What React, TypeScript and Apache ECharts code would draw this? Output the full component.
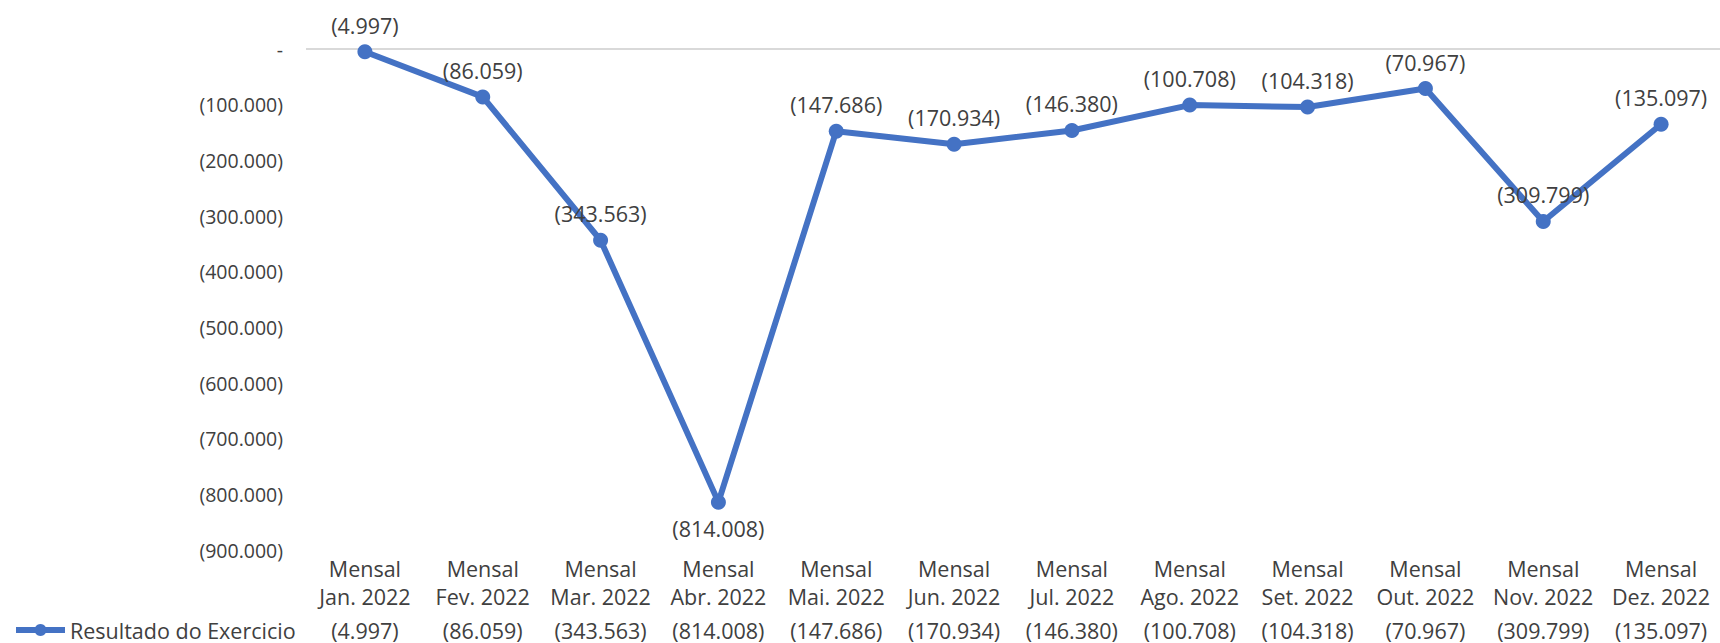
import React, { useEffect, useRef } from "react";
import * as echarts from "echarts";

const months = ["Jan. 2022", "Fev. 2022", "Mar. 2022", "Abr. 2022", "Mai. 2022", "Jun. 2022", "Jul. 2022", "Ago. 2022", "Set. 2022", "Out. 2022", "Nov. 2022", "Dez. 2022"];
const prefix = "Mensal";
const seriesName = "Resultado do Exercicio";
const values = [-4997, -86059, -343563, -814008, -147686, -170934, -146380, -100708, -104318, -70967, -309799, -135097];
const labelBelow = [false, false, false, true, false, false, false, false, false, false, false, false];
const yMin = -900000;
const yMax = 0;
const yStep = 100000;

function fmt(v: number): string {
  if (v === 0) return "-";
  const s = Math.round(Math.abs(v)).toString().replace(/\B(?=(\d{3})+(?!\d))/g, ".");
  return v < 0 ? "(" + s + ")" : s;
}

const FONT = "'Open Sans', sans-serif";
const TEXT = "#404040";
const BLUE = "#4472C4";
const FS = 21.5;

export default function App() {
  const ref = useRef<HTMLDivElement>(null);
  useEffect(() => {
    document.body.style.margin = "0";
    if (!ref.current) return;
    const chart = echarts.init(ref.current, undefined, { renderer: "svg" });
    const categories = months.map((m, i) => `{a|${prefix}}\n{a|${m}}\n{b|${fmt(values[i])}}`);
    chart.setOption({
      animation: false,
      backgroundColor: "#ffffff",
      textStyle: { fontFamily: FONT },
      grid: { left: 306, top: 49, width: 1419, height: 501, containLabel: false },
      legend: {
        left: 13,
        top: 619,
        padding: 0,
        itemWidth: 49,
        itemHeight: 15,
        itemGap: 5,
        lineStyle: { width: 6 },
        textStyle: { fontFamily: FONT, fontSize: FS, color: TEXT, padding: [0, 0, 0, 0], lineHeight: 22 },
        data: [seriesName],
      },
      xAxis: {
        type: "category",
        data: categories,
        boundaryGap: true,
        axisLine: { show: false },
        axisTick: { show: false },
        splitLine: { show: false },
        axisLabel: {
          margin: 4,
          interval: 0,
          color: TEXT,
          fontFamily: FONT,
          rich: {
            a: { fontSize: FS, lineHeight: 28, color: TEXT, fontFamily: FONT, align: "center" },
            b: { fontSize: FS, lineHeight: 40, color: TEXT, fontFamily: FONT, align: "center" },
          },
        },
      },
      yAxis: {
        type: "value",
        min: yMin,
        max: yMax,
        interval: yStep,
        axisLine: { show: false },
        axisTick: { show: false },
        splitLine: { show: false },
        axisLabel: {
          margin: 23,
          color: TEXT,
          fontFamily: FONT,
          fontSize: 19.5,
          formatter: (v: number) => fmt(v),
        },
      },
      series: [
        {
          name: seriesName,
          type: "line",
          data: values.map((v, i) => ({
            value: v,
            label: labelBelow[i] ? { position: "bottom" } : undefined,
          })),
          symbol: "circle",
          symbolSize: 15,
          lineStyle: { color: BLUE, width: 6 },
          itemStyle: { color: BLUE },
          label: {
            show: true,
            position: "top",
            distance: 8,
            color: TEXT,
            fontFamily: FONT,
            fontSize: FS,
            formatter: (p: any) => fmt(p.value),
          },
          markLine: {
            silent: true,
            symbol: "none",
            label: { show: false },
            lineStyle: { color: "#d9d9d9", width: 2, type: "solid" },
            data: [{ yAxis: 0 }],
            z: 1,
          },
          z: 3,
        },
      ],
    });
    return () => chart.dispose();
  }, []);
  return <div ref={ref} style={{ width: 1720, height: 643 }} />;
}
